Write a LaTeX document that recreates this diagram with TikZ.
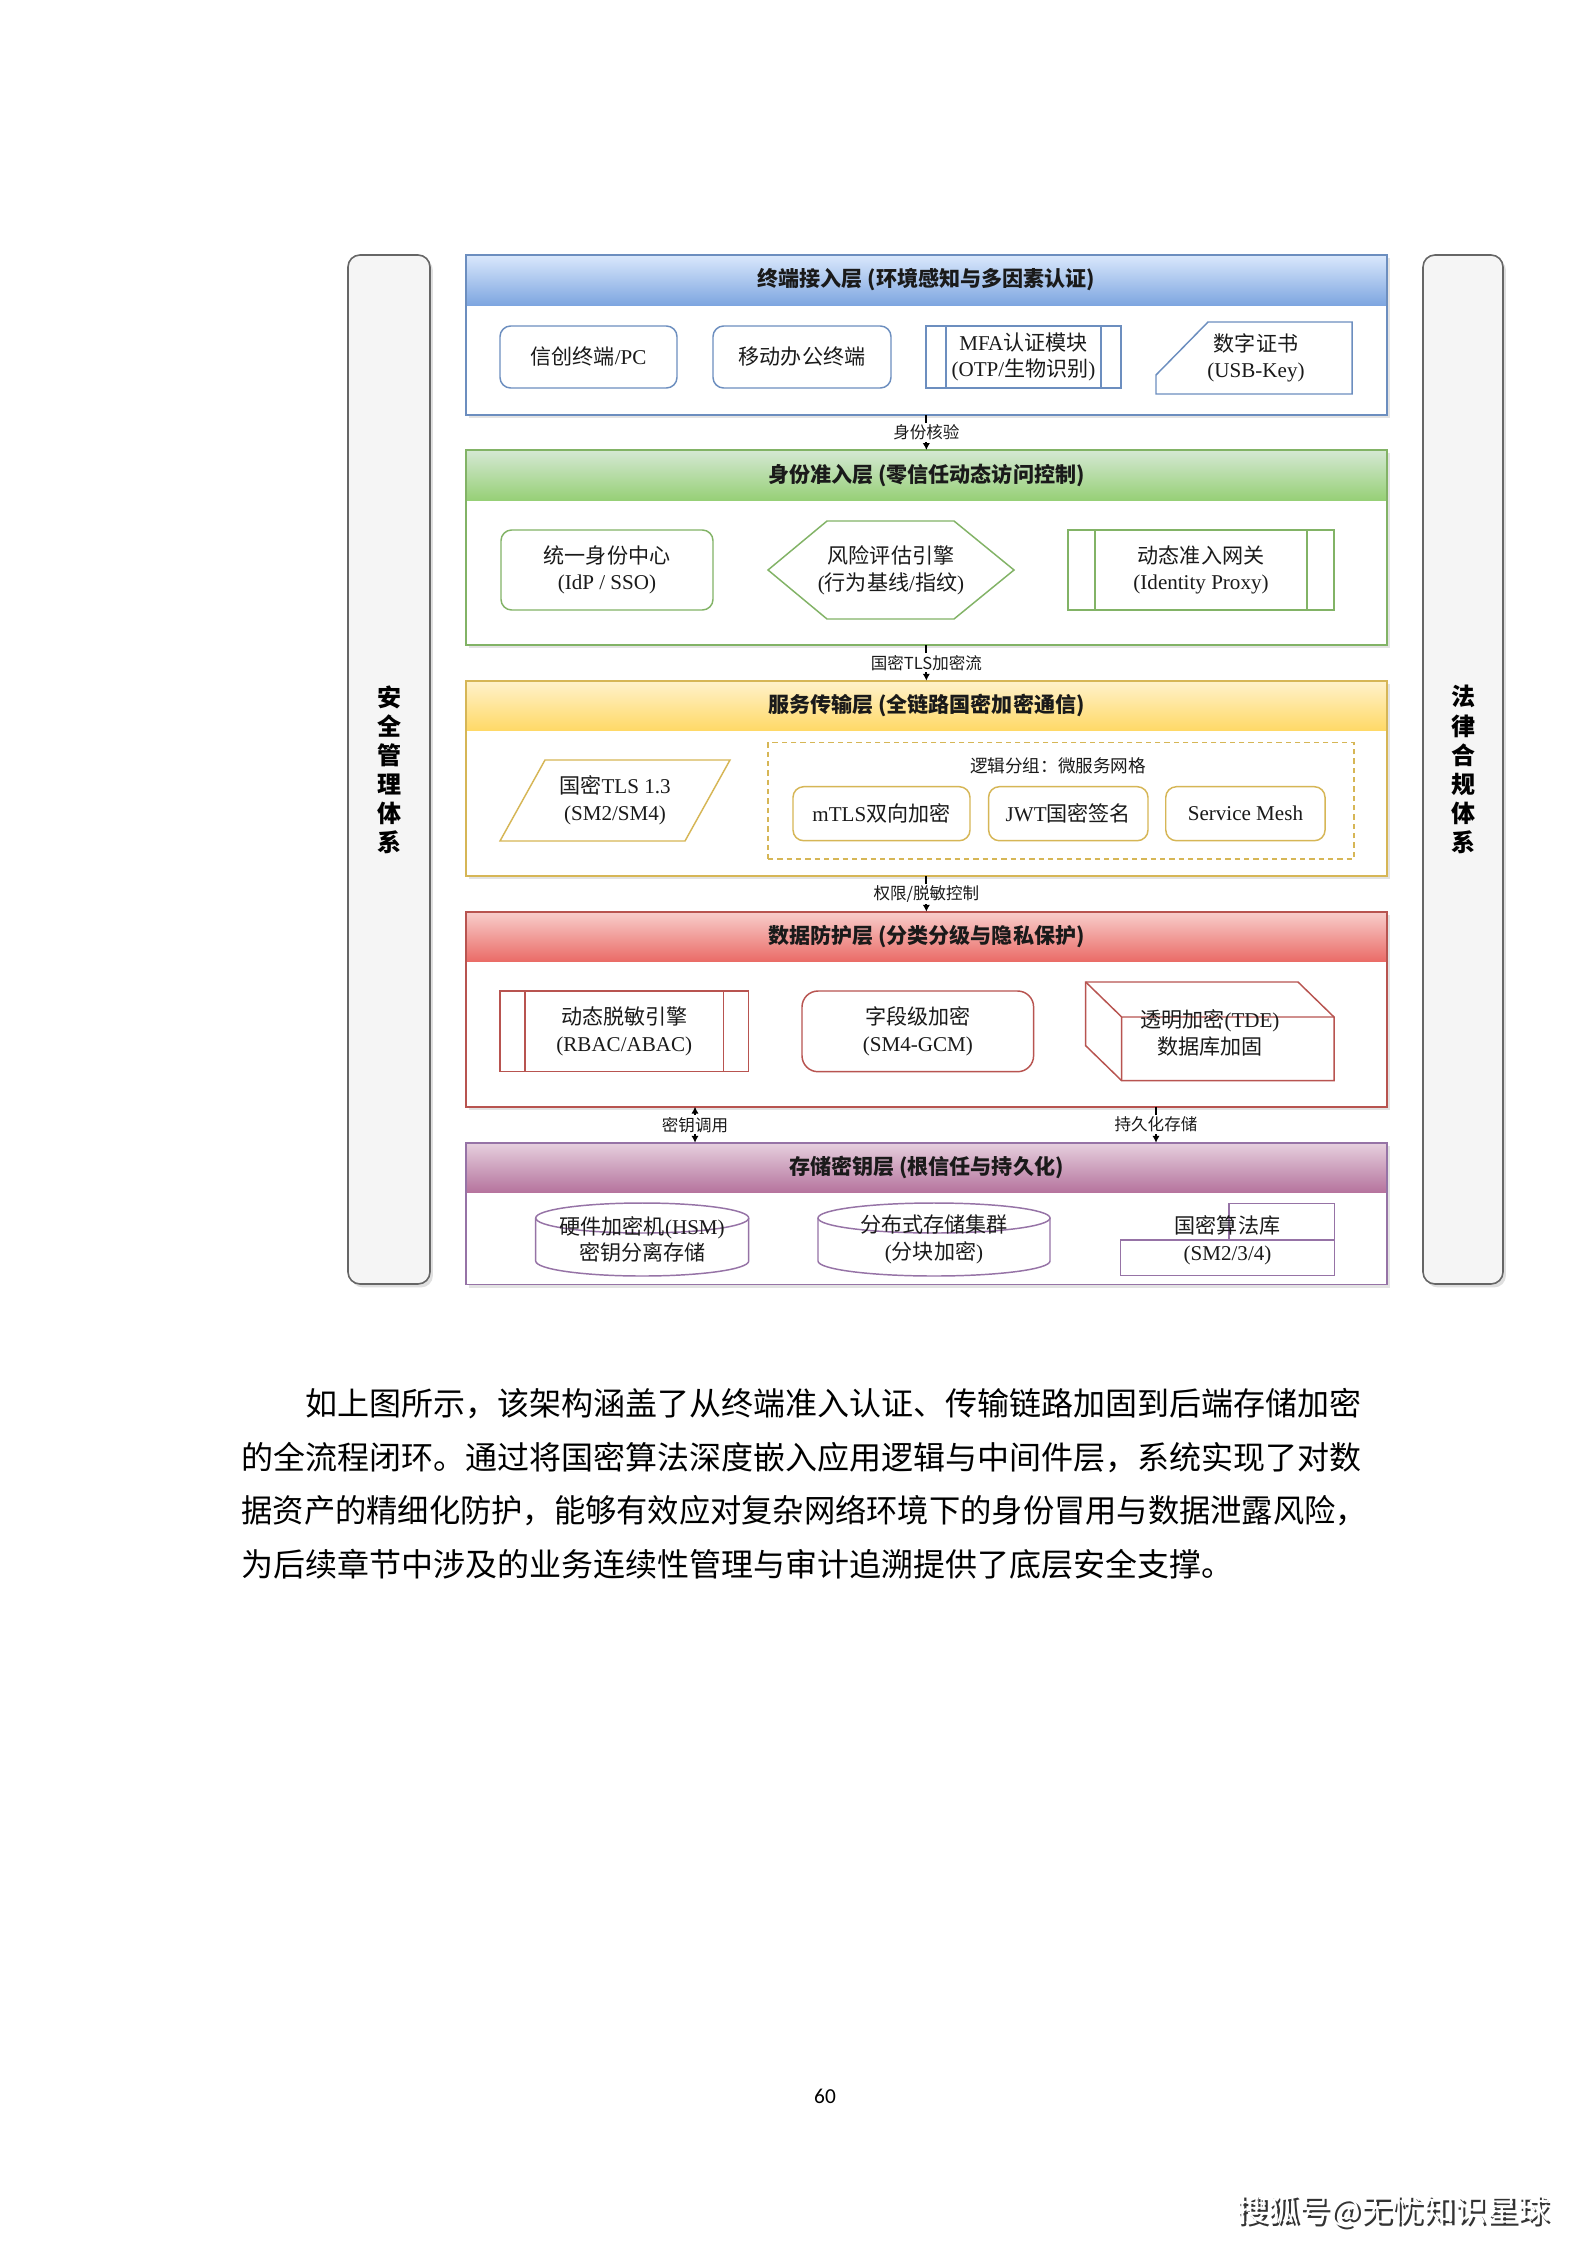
\documentclass[tikz,border=0pt]{standalone}
\usepackage{fontspec}
\usepackage{graphicx}
\setmainfont{Noto Sans CJK SC}
\newfontfamily\latf{Liberation Serif}
\newfontfamily\pgnf{Carlito}
\newcommand\lat[1]{{\latf #1}}
\newcommand\hdrfont{\bfseries\fontsize{7.9pt}{9pt}\selectfont}
\newcommand\ndfont{\fontsize{7.9pt}{10pt}\selectfont}
\newcommand\labfont{\fontsize{6.2pt}{7pt}\selectfont}
\newcommand\grpfont{\fontsize{6.6pt}{7.5pt}\selectfont}
\newcommand\sidefont{\bfseries\fontsize{9pt}{10.9pt}\selectfont}
\newcommand\bodyfont{\fontsize{12pt}{20pt}\selectfont}
\newcommand\footfont{\fontsize{11.8pt}{13pt}\selectfont}
\usetikzlibrary{calc,shadows,arrows.meta}
\definecolor{cblue}{HTML}{6C8EBF}
\definecolor{blueT}{HTML}{DAE8FC}
\definecolor{blueB}{HTML}{7EA6E0}
\definecolor{cgreen}{HTML}{82B366}
\definecolor{greenT}{HTML}{D5E8D4}
\definecolor{greenB}{HTML}{97D077}
\definecolor{cyellow}{HTML}{D6B656}
\definecolor{yellowT}{HTML}{FFF2CC}
\definecolor{yellowB}{HTML}{FFD966}
\definecolor{cred}{HTML}{B85450}
\definecolor{redT}{HTML}{F8CECC}
\definecolor{redB}{HTML}{EA6B66}
\definecolor{cpurple}{HTML}{9673A6}
\definecolor{purpleT}{HTML}{E6D0DE}
\definecolor{purpleB}{HTML}{B5739D}
\definecolor{sidefill}{HTML}{F5F5F5}
\definecolor{sidegray}{HTML}{666666}
\definecolor{txt}{HTML}{1A1A1A}
\begin{document}
\begin{tikzpicture}[x=0.375pt,y=-0.375pt,
  sz/.style 2 args={minimum width=#1*0.375pt,minimum height=#2*0.375pt,inner sep=0pt,outer sep=0pt},
  laybox/.style={draw=#1,line width=0.6pt,fill=white,drop shadow={shadow xshift=1.1pt,shadow yshift=-1.3pt,opacity=0.22}},
  hdr/.style 2 args={top color=#1,bottom color=#2,font=\hdrfont,text=txt},
  lout/.style={draw=#1,line width=0.6pt},
  nd/.style={font=\ndfont,align=center,text=txt},
  rbox/.style={nd,draw=#1,fill=white,line width=0.55pt,rounded corners=4pt},
  pbox/.style={nd,draw=#1,fill=white,line width=0.55pt},
  sh/.style={draw=#1,line width=0.55pt},
  arr/.style={draw=black,line width=0.7pt,-{Latex[length=2.6pt,width=2.8pt]}},
  arrtwo/.style={draw=black,line width=0.7pt,{Latex[length=2.6pt,width=2.8pt]}-{Latex[length=2.6pt,width=2.8pt]}},
  lab/.style={font=\labfont,fill=white,inner sep=0.7pt,text=txt},
  side/.style={draw=sidegray,fill=sidefill,rounded corners=4.5pt,line width=0.6pt,
    drop shadow={shadow xshift=1.1pt,shadow yshift=-1.3pt,opacity=0.25},
    font=\sidefont,align=center,text=black}
]
\fill[white] (0,0) rectangle (1587,2245);
\useasboundingbox (0,0) rectangle (1587,2245);

% side panels
\node[side,sz={82}{1029}] (secmgmt) at (389,769.5) {安\\全\\管\\理\\体\\系};
\node[side,sz={80}{1029}] (legal) at (1463,769.5) {法\\律\\合\\规\\体\\系};

% layers
\node[laybox=cblue,sz={921.3}{160}] (L1) at (926.35,335) {};
\node[hdr={blueT}{blueB},sz={921.3}{50},anchor=north] (H1) at (L1.north) {终端接入层 (环境感知与多因素认证)};
\draw[lout=cblue] (L1.north west) rectangle (L1.south east);

\node[laybox=cgreen,sz={921.3}{195}] (L2) at (926.35,547.5) {};
\node[hdr={greenT}{greenB},sz={921.3}{50},anchor=north] (H2) at (L2.north) {身份准入层 (零信任动态访问控制)};
\draw[lout=cgreen] (L2.north west) rectangle (L2.south east);

\node[laybox=cyellow,sz={921.3}{195.3}] (L3) at (926.35,778.35) {};
\node[hdr={yellowT}{yellowB},sz={921.3}{50},anchor=north] (H3) at (L3.north) {服务传输层 (全链路国密加密通信)};
\draw[lout=cyellow] (L3.north west) rectangle (L3.south east);

\node[laybox=cred,sz={921.3}{195}] (L4) at (926.35,1009.2) {};
\node[hdr={redT}{redB},sz={921.3}{50},anchor=north] (H4) at (L4.north) {数据防护层 (分类分级与隐私保护)};
\draw[lout=cred] (L4.north west) rectangle (L4.south east);

\node[laybox=cpurple,sz={921.3}{141.6}] (L5) at (926.35,1213.5) {};
\node[hdr={purpleT}{purpleB},sz={921.3}{50},anchor=north] (H5) at (L5.north) {存储密钥层 (根信任与持久化)};
\draw[lout=cpurple] (L5.north west) rectangle (L5.south east);

% connectors between layers
\draw[arr] (L1.south) -- node[lab] (A1) {身份核验} (L2.north);
\draw[arr] (L2.south) -- node[lab] (A2) {国密TLS加密流} (L3.north);
\draw[arr] (L3.south) -- node[lab] (A3) {权限/脱敏控制} (L4.north);
\coordinate (k1) at (695,0);
\coordinate (k2) at (1156,0);
\draw[arrtwo] (L4.south -| k1) -- node[lab] (A4) {密钥调用} (L5.north -| k1);
\draw[arr] (L4.south -| k2) -- node[lab] (A5) {持久化存储} (L5.north -| k2);

% layer 1 nodes
\node[rbox=cblue,sz={177}{62}] (N11) at (588.5,357) {信创终端\lat{/PC}};
\node[rbox=cblue,sz={178}{62}] (N12) at (802,357) {移动办公终端};
\node[pbox=cblue,sz={195}{62}] (N13) at (1023.5,357) {\lat{MFA}认证模块\\\lat{(OTP/}生物识别\lat{)}};
\draw[sh=cblue] ($(N13.north west)+(20,0)$) -- ($(N13.south west)+(20,0)$)
  ($(N13.north east)+(-20,0)$) -- ($(N13.south east)+(-20,0)$);
\draw[sh=cblue] (1156,394) -- (1156,375) -- (1208,322) -- (1352,322) -- (1352,394) -- cycle;
\node[nd,sz={196}{72}] (N14) at (1256,358) {数字证书\\\lat{(USB-Key)}};

% layer 2 nodes
\node[rbox=cgreen,sz={212}{80}] (N21) at (607,570) {统一身份中心\\\lat{(IdP / SSO)}};
\draw[sh=cgreen] (768,570) -- (827,521) -- (954,521) -- (1014,570) -- (954,619) -- (827,619) -- cycle;
\node[nd,sz={246}{98}] (N22) at (891,570) {风险评估引擎\\\lat{(}行为基线\lat{/}指纹\lat{)}};
\node[pbox=cgreen,sz={266}{80}] (N23) at (1201,570) {动态准入网关\\\lat{(Identity Proxy)}};
\draw[sh=cgreen] ($(N23.north west)+(27,0)$) -- ($(N23.south west)+(27,0)$)
  ($(N23.north east)+(-27,0)$) -- ($(N23.south east)+(-27,0)$);

% layer 3 nodes
\draw[sh=cyellow] (500,841) -- (545,760) -- (730,760) -- (685,841) -- cycle;
\node[nd,sz={230}{81}] (N31) at (615,800.5) {国密\lat{TLS 1.3}\\\lat{(SM2/SM4)}};
\node[draw=cyellow,dash pattern=on 2pt off 1.5pt,line width=0.5pt,sz={586}{116.3}] (G3) at (1061,800.85) {};
\node[font=\grpfont,text=txt] (G3L) at (1058,766) {逻辑分组：微服务网格};
\node[rbox=cyellow,sz={177}{54}] (N32) at (881.5,813.7) {\lat{mTLS}双向加密};
\node[rbox=cyellow,sz={159.4}{54}] (N33) at (1068.3,813.7) {\lat{JWT}国密签名};
\node[rbox=cyellow,sz={159.3}{54}] (N34) at (1245.4,813.7) {\lat{Service Mesh}};

% layer 4 nodes
\node[pbox=cred,sz={248.6}{80.7}] (N41) at (624.3,1031.35) {动态脱敏引擎\\\lat{(RBAC/ABAC)}};
\draw[sh=cred] ($(N41.north west)+(25,0)$) -- ($(N41.south west)+(25,0)$)
  ($(N41.north east)+(-25,0)$) -- ($(N41.south east)+(-25,0)$);
\node[rbox=cred,rounded corners=6pt,sz={231.6}{80.7}] (N42) at (917.8,1031.35) {字段级加密\\\lat{(SM4-GCM)}};
\draw[sh=cred] (1085.7,982) -- (1298,982) -- (1334,1017) -- (1334,1080.7) -- (1121.7,1080.7) -- (1085.7,1045.7) -- cycle;
\draw[sh=cred] (1085.7,982) -- (1121.7,1017) -- (1334,1017) (1121.7,1017) -- (1121.7,1080.7);
\node[nd,sz={248.3}{98.7}] (N43) at (1209.85,1033) {透明加密\lat{(TDE)}\\数据库加固};

% layer 5 nodes
\draw[sh=cpurple] (535.7,1218) -- (535.7,1261) arc[start angle=180,end angle=360,x radius=39.94pt,y radius=5.625pt] -- (748.7,1218);
\draw[sh=cpurple] (642.2,1218) ellipse[x radius=39.94pt,y radius=5.625pt];
\node[nd,sz={213}{73}] (N51) at (642.2,1239.5) {硬件加密机\lat{(HSM)}\\密钥分离存储};
\draw[sh=cpurple] (818,1218) -- (818,1261) arc[start angle=180,end angle=360,x radius=43.5pt,y radius=5.625pt] -- (1050,1218);
\draw[sh=cpurple] (934,1218) ellipse[x radius=43.5pt,y radius=5.625pt];
\node[nd,sz={232}{73}] (N52) at (934,1239.5) {分布式存储集群\\\lat{(}分块加密\lat{)}};
\draw[sh=cpurple] (1120.5,1240) rectangle (1334.5,1275.5);
\draw[sh=cpurple] (1229,1203.5) rectangle (1334.5,1240);
\node[nd,sz={214}{72}] (N53) at (1227.5,1240) {国密算法库\\\lat{(SM2/3/4)}};

% body text
\node[anchor=west,inner sep=0pt,font=\bodyfont,text=black] (P1) at (241,1403.7)
  {\resizebox{420pt}{\height}{\hspace*{24pt}如上图所示，该架构涵盖了从终端准入认证、传输链路加固到后端存储加密}};
\node[anchor=west,inner sep=0pt,font=\bodyfont,text=black] (P2) at (241,1458)
  {\resizebox{420pt}{\height}{的全流程闭环。通过将国密算法深度嵌入应用逻辑与中间件层，系统实现了对数}};
\node[anchor=west,inner sep=0pt,font=\bodyfont,text=black] (P3) at (241,1511)
  {\resizebox{422pt}{\height}{据资产的精细化防护，能够有效应对复杂网络环境下的身份冒用与数据泄露风险，}};
\node[anchor=west,inner sep=0pt,font=\bodyfont,text=black] (P4) at (241,1564)
  {为后续章节中涉及的业务连续性管理与审计追溯提供了底层安全支撑。};

% page number and footer
\node[font=\pgnf\fontsize{8pt}{9pt}\selectfont,text=black] (PG) at (825,2096) {60};
\node[font=\footfont,text=black!80] (FTS) at (1395.5,2213.5) {搜狐号@无忧知识星球};
\node[font=\footfont,text=white] (FT) at (1393,2211) {搜狐号@无忧知识星球};
\end{tikzpicture}
\end{document}
